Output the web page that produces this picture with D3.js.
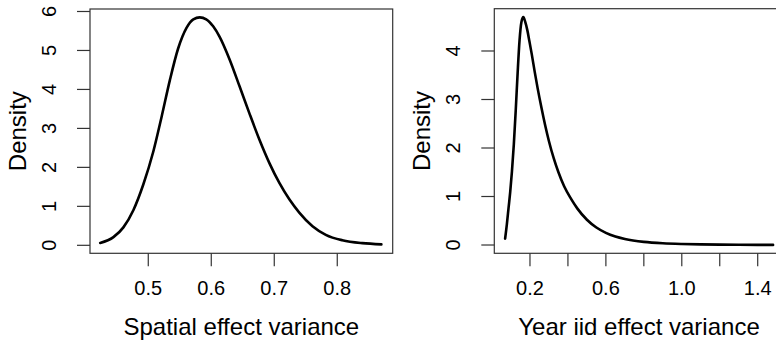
<!DOCTYPE html>
<html>
<head>
<meta charset="utf-8">
<script src="https://cdn.jsdelivr.net/npm/d3@7"></script>
<style>
  body { margin: 0; background: #fff; }
  text { font-family: "Liberation Sans", Arial, sans-serif; fill: #000; }
</style>
</head>
<body>
<div id="chart"></div>
<script>

// posterior density: spatial effect variance
var spatialX = [0.4237, 0.4447, 0.4605, 0.4763, 0.4921, 0.5079, 0.5212, 0.5343, 0.5474, 0.5607,
                0.5715, 0.5817, 0.5920, 0.6030, 0.6133, 0.6291, 0.6449, 0.6607, 0.6765, 0.6923,
                0.7081, 0.7239, 0.7397, 0.7607, 0.7818, 0.8080, 0.8397, 0.8700];
var spatialY = [0.06, 0.21, 0.46, 0.90, 1.56, 2.40, 3.30, 4.24, 5.05, 5.58,
                5.80, 5.85, 5.80, 5.62, 5.35, 4.77, 4.08, 3.38, 2.71, 2.11,
                1.60, 1.18, 0.84, 0.49, 0.27, 0.13, 0.055, 0.025];

// posterior density: year iid effect variance
var yearX = [0.069, 0.078, 0.087, 0.096, 0.105, 0.115, 0.125, 0.135, 0.145, 0.155,
             0.165, 0.175, 0.186, 0.197, 0.210, 0.225, 0.240, 0.260, 0.280, 0.300,
             0.325, 0.350, 0.380, 0.415, 0.450, 0.500, 0.550, 0.600, 0.650, 0.700,
             0.800, 0.900, 1.000, 1.100, 1.200, 1.300, 1.400, 1.481];
var yearY = [0.13, 0.42, 0.76, 1.10, 1.52, 2.08, 2.78, 3.55, 4.22, 4.60,
             4.70, 4.60, 4.43, 4.20, 3.92, 3.57, 3.24, 2.84, 2.47, 2.14,
             1.79, 1.50, 1.21, 0.96, 0.75, 0.52, 0.36, 0.25, 0.175, 0.125,
             0.065, 0.035, 0.02, 0.012, 0.008, 0.005, 0.003, 0.002];

// ticks
var spatialXTicks = [0.5, 0.6, 0.7, 0.8];
var spatialYTicks = [0, 1, 2, 3, 4, 5, 6];
var yearXTicks = [0.2, 0.4, 0.6, 0.8, 1.0, 1.2, 1.4];
var yearXLabels = [0.2, 0.6, 1.0, 1.4];   // R drops the labels that would overlap
var yearYTicks = [0, 1, 2, 3, 4];

var spatialTitle = "Spatial effect variance";
var yearTitle = "Year iid effect variance";


/***** obszar rysowania *****/

var svg = d3.select("#chart")
        .append("svg")
        .attr("width", 776)
        .attr("height", 340);

var tickLen = 13;

var rysujPanel = function(opt){

    var x = d3.scaleLinear().domain(opt.xlim).range([opt.left, opt.right]);
    var y = d3.scaleLinear().domain(opt.ylim).range([opt.bottom, opt.top]);

    var g = svg.append("g");

    // krzywa gestosci
    var pts = opt.xs.map(function(d, i){ return [d, opt.ys[i]]; });
    var line = d3.line()
        .x(function(d){ return x(d[0]); })
        .y(function(d){ return y(d[1]); })
        .curve(d3.curveMonotoneX);

    g.append("path")
        .datum(pts)
        .attr("d", line)
        .attr("fill", "none")
        .attr("stroke", "#000")
        .attr("stroke-width", 2.6)
        .attr("stroke-linejoin", "round")
        .attr("stroke-linecap", "round");

    // ramka
    g.append("rect")
        .attr("x", opt.left)
        .attr("y", opt.top)
        .attr("width", opt.right - opt.left)
        .attr("height", opt.bottom - opt.top)
        .attr("fill", "none")
        .attr("stroke", "#333")
        .attr("stroke-width", 1.2);

    // os x
    g.selectAll(".xt").data(opt.xticks).enter()
        .append("line")
        .attr("x1", function(d){ return x(d); })
        .attr("x2", function(d){ return x(d); })
        .attr("y1", opt.bottom)
        .attr("y2", opt.bottom + tickLen)
        .attr("stroke", "#333")
        .attr("stroke-width", 1.2);

    g.selectAll(".xl").data(opt.xlabels).enter()
        .append("text")
        .attr("x", function(d){ return x(d); })
        .attr("y", 295)
        .attr("text-anchor", "middle")
        .style("font-size", "20px")
        .text(function(d){ return d3.format(".1f")(d); });

    // os y
    g.selectAll(".yt").data(opt.yticks).enter()
        .append("line")
        .attr("x1", opt.left - tickLen)
        .attr("x2", opt.left)
        .attr("y1", function(d){ return y(d); })
        .attr("y2", function(d){ return y(d); })
        .attr("stroke", "#333")
        .attr("stroke-width", 1.2);

    g.selectAll(".yl").data(opt.yticks).enter()
        .append("text")
        .attr("transform", function(d){ return "translate(" + (opt.left - 34) + "," + y(d) + ") rotate(-90)"; })
        .attr("text-anchor", "middle")
        .style("font-size", "20px")
        .text(function(d){ return d; });

    // tytuly osi
    g.append("text")
        .attr("x", (opt.left + opt.right) / 2)
        .attr("y", 335)
        .attr("text-anchor", "middle")
        .style("font-size", "24px")
        .text(opt.title);

    g.append("text")
        .attr("transform", "translate(" + (opt.left - 64.5) + "," + (opt.top + opt.bottom) / 2 + ") rotate(-90)")
        .attr("text-anchor", "middle")
        .style("font-size", "24px")
        .text("Density");
};

rysujPanel({
    xs: spatialX, ys: spatialY,
    xlim: [0.4075, 0.888], ylim: [-0.205, 6.064],
    left: 90, right: 392.7, top: 9, bottom: 253.3,
    xticks: spatialXTicks, xlabels: spatialXTicks, yticks: spatialYTicks,
    title: spatialTitle
});

rysujPanel({
    xs: yearX, ys: yearY,
    xlim: [0.012, 1.537], ylim: [-0.171, 4.872],
    left: 494.3, right: 783.7, top: 8.7, bottom: 253.3,
    xticks: yearXTicks, xlabels: yearXLabels, yticks: yearYTicks,
    title: yearTitle
});

</script>
</body>
</html>
